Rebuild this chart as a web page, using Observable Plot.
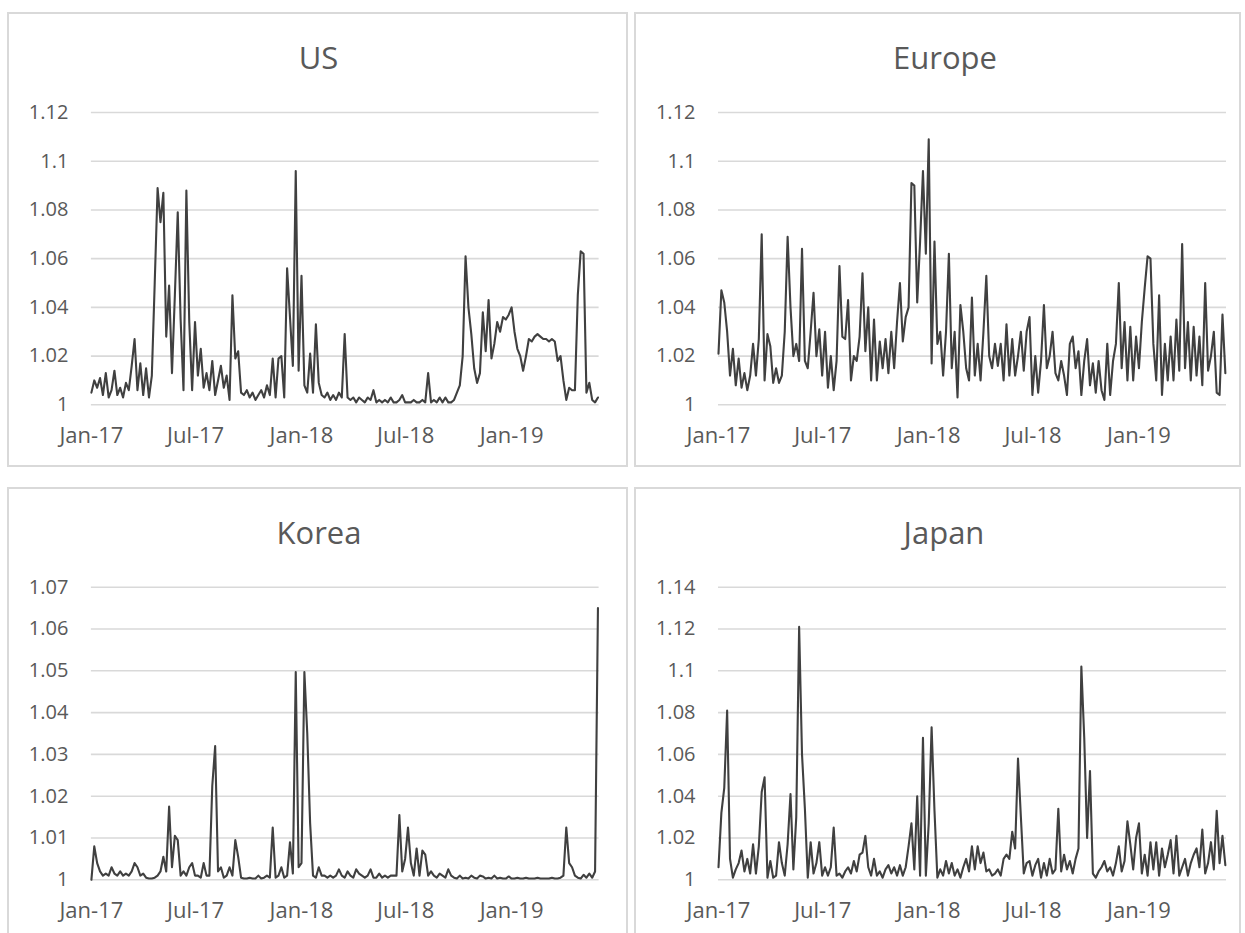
<!DOCTYPE html>
<html>
<head>
<meta charset="utf-8">
<script src="https://cdn.jsdelivr.net/npm/d3@7"></script>
<script src="https://cdn.jsdelivr.net/npm/@observablehq/plot@0.6"></script>
<style>
  html, body { margin: 0; padding: 0; background: #fff; }
  #page { position: relative; width: 1245px; height: 933px; overflow: hidden; background: #fff; font-family: "Open Sans", sans-serif; }
  .panel { position: absolute; box-sizing: border-box; border: 2px solid #d9d9d9; background: #fff; }
  .title { position: absolute; width: 300px; text-align: center; font-size: 31px; line-height: 31px; color: #595959; font-family: "Open Sans", sans-serif; }
  .chart { position: absolute; }
</style>
</head>
<body>
<div id="page"></div>
<script>
// ---- data ----
const START_DATE = "2017-01-01";
const STEP_DAYS = 5;

const xTickDates = ["2017-01-01", "2017-07-01", "2018-01-01", "2018-07-01", "2019-01-01"];
const xDomainEnd = "2019-06-02";

const usTicks = [1, 1.02, 1.04, 1.06, 1.08, 1.1, 1.12];
const europeTicks = [1, 1.02, 1.04, 1.06, 1.08, 1.1, 1.12];
const koreaTicks = [1, 1.01, 1.02, 1.03, 1.04, 1.05, 1.06, 1.07];
const japanTicks = [1, 1.02, 1.04, 1.06, 1.08, 1.1, 1.12, 1.14];

const usValues = [
 1.005,1.010,1.007,1.011,1.004,1.013,1.003,1.006,1.014,1.004,
 1.007,1.003,1.009,1.006,1.016,1.027,1.006,1.017,1.004,1.015,
 1.003,1.012,1.050,1.089,1.075,1.087,1.028,1.049,1.013,1.045,
 1.079,1.035,1.006,1.088,1.034,1.006,1.034,1.012,1.023,1.007,
 1.013,1.006,1.018,1.004,1.010,1.016,1.007,1.012,1.002,1.045,
 1.019,1.022,1.005,1.004,1.006,1.003,1.005,1.002,1.004,1.006,
 1.003,1.008,1.004,1.019,1.003,1.019,1.020,1.003,1.056,1.036,
 1.016,1.096,1.014,1.053,1.008,1.005,1.021,1.005,1.033,1.009,
 1.004,1.003,1.005,1.002,1.004,1.002,1.005,1.003,1.029,1.003,
 1.002,1.003,1.001,1.003,1.002,1.001,1.003,1.002,1.006,1.001,
 1.002,1.001,1.002,1.001,1.003,1.001,1.001,1.002,1.004,1.001,
 1.001,1.001,1.002,1.001,1.001,1.002,1.001,1.013,1.001,1.002,
 1.001,1.003,1.001,1.003,1.001,1.001,1.002,1.005,1.008,1.020,
 1.061,1.040,1.029,1.015,1.009,1.013,1.038,1.022,1.043,1.019,
 1.025,1.034,1.030,1.036,1.035,1.037,1.040,1.030,1.023,1.020,
 1.014,1.020,1.027,1.026,1.028,1.029,1.028,1.027,1.027,1.026,
 1.027,1.026,1.018,1.020,1.010,1.002,1.007,1.006,1.006,1.045,
 1.063,1.062,1.005,1.009,1.002,1.001,1.003
];

const europeValues = [
 1.021,1.047,1.042,1.030,1.012,1.023,1.008,1.019,1.007,1.013,
 1.006,1.012,1.025,1.012,1.027,1.070,1.010,1.029,1.024,1.009,
 1.015,1.009,1.012,1.030,1.069,1.040,1.020,1.025,1.018,1.064,
 1.018,1.015,1.030,1.046,1.020,1.031,1.012,1.030,1.007,1.020,
 1.006,1.018,1.057,1.028,1.027,1.043,1.010,1.020,1.018,1.028,
 1.054,1.022,1.040,1.010,1.035,1.010,1.026,1.015,1.027,1.013,
 1.030,1.015,1.034,1.050,1.026,1.036,1.040,1.091,1.090,1.042,
 1.067,1.096,1.062,1.109,1.017,1.067,1.025,1.030,1.012,1.030,
 1.062,1.015,1.030,1.003,1.041,1.030,1.015,1.010,1.044,1.012,
 1.025,1.010,1.030,1.053,1.020,1.015,1.025,1.016,1.025,1.010,
 1.033,1.012,1.027,1.012,1.020,1.030,1.014,1.030,1.036,1.004,
 1.020,1.005,1.018,1.041,1.015,1.020,1.030,1.013,1.010,1.018,
 1.012,1.004,1.025,1.028,1.015,1.022,1.004,1.018,1.027,1.008,
 1.017,1.005,1.018,1.006,1.002,1.025,1.004,1.018,1.025,1.050,
 1.015,1.034,1.010,1.032,1.010,1.028,1.015,1.034,1.048,1.061,
 1.060,1.025,1.010,1.045,1.004,1.025,1.010,1.028,1.010,1.035,
 1.014,1.066,1.015,1.034,1.010,1.032,1.012,1.028,1.008,1.050,
 1.014,1.020,1.030,1.005,1.004,1.037,1.013
];

const koreaValues = [
 1.000,1.008,1.004,1.002,1.001,1.0015,1.001,1.003,1.0015,1.001,
 1.002,1.001,1.0015,1.001,1.002,1.004,1.003,1.001,1.0015,1.0005,
 1.0003,1.0003,1.0005,1.001,1.002,1.0055,1.002,1.0175,1.003,1.0105,
 1.0095,1.001,1.002,1.001,1.003,1.004,1.001,1.001,1.0005,1.004,
 1.001,1.001,1.0225,1.032,1.002,1.003,1.0005,1.001,1.003,1.001,
 1.0095,1.0055,1.0005,1.0003,1.0003,1.0005,1.0003,1.0003,1.001,1.0003,
 1.0005,1.001,1.0005,1.0125,1.0005,1.001,1.003,1.0005,1.001,1.009,
 1.0015,1.0497,1.003,1.004,1.0497,1.035,1.0135,1.001,1.0005,1.003,
 1.001,1.001,1.0005,1.001,1.0005,1.001,1.0025,1.001,1.0005,1.002,
 1.001,1.0005,1.0025,1.0015,1.001,1.0005,1.001,1.0025,1.0005,1.0005,
 1.0015,1.0005,1.001,1.0005,1.001,1.001,1.001,1.0155,1.002,1.005,
 1.0125,1.004,1.001,1.0075,1.001,1.007,1.006,1.001,1.002,1.001,
 1.0005,1.0015,1.001,1.0005,1.0025,1.001,1.0005,1.0003,1.001,1.0003,
 1.0005,1.0003,1.001,1.0005,1.0003,1.001,1.0008,1.0003,1.0005,1.0003,
 1.001,1.0003,1.0005,1.0003,1.0003,1.0008,1.0003,1.0003,1.0005,1.0003,
 1.0003,1.0005,1.0003,1.0003,1.0003,1.0005,1.0003,1.0003,1.0003,1.0003,
 1.0005,1.0003,1.0003,1.0005,1.001,1.0125,1.004,1.003,1.001,1.0005,
 1.0003,1.0012,1.0005,1.0015,1.0005,1.002,1.065
];

const japanValues = [
 1.006,1.032,1.044,1.081,1.010,1.001,1.005,1.008,1.014,1.004,
 1.010,1.003,1.017,1.003,1.016,1.042,1.049,1.001,1.009,1.001,
 1.002,1.018,1.008,1.002,1.017,1.041,1.005,1.030,1.121,1.060,
 1.034,1.001,1.018,1.003,1.008,1.018,1.002,1.006,1.002,1.006,
 1.025,1.002,1.003,1.001,1.004,1.006,1.003,1.009,1.004,1.012,
 1.013,1.021,1.006,1.002,1.010,1.002,1.004,1.001,1.005,1.007,
 1.003,1.006,1.002,1.007,1.002,1.006,1.016,1.027,1.005,1.040,
 1.002,1.068,1.002,1.027,1.073,1.033,1.001,1.005,1.002,1.009,
 1.003,1.008,1.002,1.005,1.001,1.006,1.010,1.004,1.016,1.005,
 1.016,1.008,1.013,1.004,1.005,1.002,1.003,1.005,1.002,1.010,
 1.012,1.010,1.023,1.015,1.058,1.030,1.003,1.008,1.009,1.002,
 1.007,1.010,1.001,1.008,1.002,1.010,1.003,1.005,1.034,1.004,
 1.012,1.005,1.009,1.003,1.010,1.015,1.102,1.068,1.020,1.052,
 1.003,1.001,1.004,1.006,1.009,1.004,1.006,1.002,1.008,1.016,
 1.004,1.009,1.028,1.017,1.005,1.020,1.027,1.003,1.012,1.002,
 1.018,1.005,1.018,1.002,1.015,1.006,1.012,1.019,1.003,1.021,
 1.002,1.006,1.010,1.002,1.008,1.012,1.015,1.006,1.024,1.003,
 1.008,1.018,1.005,1.033,1.008,1.021,1.007
];

const panelTitles = ["US", "Europe", "Korea", "Japan"];

// ---- layout ----
const start = new Date(START_DATE + "T00:00:00Z");
const dates = usValues.map((_, i) => d3.utcDay.offset(start, i * STEP_DAYS));
const xTicks = xTickDates.map(s => new Date(s + "T00:00:00Z"));
const xEnd = new Date(xDomainEnd + "T00:00:00Z");

const panels = [
  {title: panelTitles[0], values: usValues, ticks: usTicks,
   box: {left: 7, top: 12, width: 621, height: 455},
   plot: {x0: 90.9, x1: 598.6, yTop: 112, yBottom: 404.3}, titleCx: 318.5, titleBase: 69},
  {title: panelTitles[1], values: europeValues, ticks: europeTicks,
   box: {left: 634, top: 12, width: 607, height: 455},
   plot: {x0: 718, x1: 1226, yTop: 112, yBottom: 404.3}, titleCx: 945, titleBase: 69},
  {title: panelTitles[2], values: koreaValues, ticks: koreaTicks,
   box: {left: 7, top: 487, width: 621, height: 470},
   plot: {x0: 90.9, x1: 598.6, yTop: 586.7, yBottom: 879.3}, titleCx: 319, titleBase: 544},
  {title: panelTitles[3], values: japanValues, ticks: japanTicks,
   box: {left: 634, top: 487, width: 607, height: 470},
   plot: {x0: 718, x1: 1226, yTop: 586.7, yBottom: 879.3}, titleCx: 944, titleBase: 544}
];

const page = document.getElementById("page");

for (const p of panels) {
  const box = document.createElement("div");
  box.className = "panel";
  Object.assign(box.style, {left: p.box.left + "px", top: p.box.top + "px", width: p.box.width + "px", height: p.box.height + "px"});
  page.appendChild(box);

  const t = document.createElement("div");
  t.className = "title";
  t.textContent = p.title;
  Object.assign(t.style, {left: (p.titleCx - 150) + "px", top: (p.titleBase - 27.5) + "px"});
  page.appendChild(t);

  const svgTop = p.box.top;
  const svgHeight = 455;
  const chart = Plot.plot({
    width: p.box.width,
    height: svgHeight,
    marginLeft: p.plot.x0 - p.box.left,
    marginRight: p.box.left + p.box.width - p.plot.x1,
    marginTop: p.plot.yTop - svgTop,
    marginBottom: svgTop + svgHeight - p.plot.yBottom,
    style: {background: "transparent", fontFamily: "Open Sans", color: "#595959", overflow: "visible"},
    x: {type: "utc", domain: [start, xEnd], label: null},
    y: {domain: [p.ticks[0], p.ticks[p.ticks.length - 1]], label: null},
    marks: [
      Plot.gridY(p.ticks, {stroke: "#d9d9d9", strokeOpacity: 1, strokeWidth: 1.6}),
      Plot.axisY(p.ticks, {tickSize: 0, tickPadding: 23, tickFormat: d => String(d), fontSize: 20, fill: "#595959", label: null}),
      Plot.axisX(xTicks, {tickSize: 0, tickPadding: 23, tickFormat: d3.utcFormat("%b-%y"), fontSize: 22, fill: "#595959", label: null}),
      Plot.line(p.values, {x: dates, y: p.values, stroke: "#404040", strokeWidth: 2.1, strokeLinejoin: "round"})
    ]
  });
  chart.classList.add("chart");
  chart.style.left = p.box.left + "px";
  chart.style.top = svgTop + "px";
  page.appendChild(chart);
}
</script>
</body>
</html>
